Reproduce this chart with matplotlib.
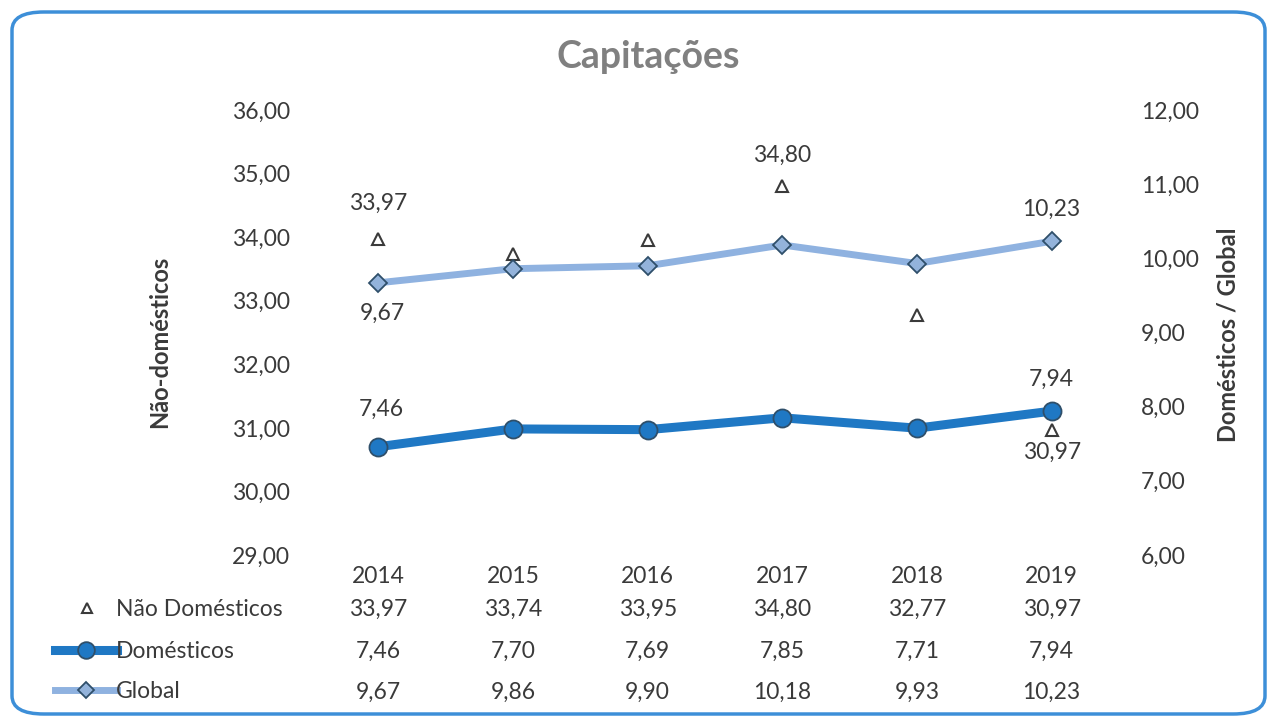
import matplotlib
matplotlib.use('Agg')
import matplotlib.pyplot as plt
from matplotlib import transforms
from matplotlib.lines import Line2D
from matplotlib.patches import FancyBboxPatch

plt.rcParams['font.family'] = ['Lato', 'DejaVu Sans']

anos = ['2014', '2015', '2016', '2017', '2018', '2019']
nao_domesticos = [33.97, 33.74, 33.95, 34.80, 32.77, 30.97]
domesticos = [7.46, 7.70, 7.69, 7.85, 7.71, 7.94]
global_ = [9.67, 9.86, 9.90, 10.18, 9.93, 10.23]

cor_txt = '#3a3a3a'
cor_dom = '#1f78c4'
cor_glob = '#8fb2e0'
cor_borda = '#2f4f6a'
fs = 16.5


def fmt(v):
    return ('%.2f' % v).replace('.', ',')


fig = plt.figure(figsize=(12.77, 7.26), dpi=100)
W, H = 1277, 726
ax = fig.add_axes([311 / W, 1 - 555 / H, (1119 - 311) / W, (555 - 110) / H])
ax2 = ax.twinx()

x = list(range(len(anos)))

# eixo esquerdo: não domésticos
ax.plot(x, nao_domesticos, linestyle='none', marker='^', markersize=8,
        markerfacecolor='white', markeredgecolor=cor_txt, markeredgewidth=1.5, zorder=3)
ax.set_ylim(29, 36)
ax.set_yticks(range(29, 37))
ax.set_yticklabels([fmt(v) for v in range(29, 37)])
ax.set_xlim(-0.5, 5.5)
ax.set_xticks(x)
ax.set_xticklabels(anos)
ax.tick_params(axis='x', length=0, pad=8, labelsize=fs, labelcolor=cor_txt)
ax.tick_params(axis='y', length=0, pad=15, labelsize=fs, labelcolor=cor_txt)

# eixo direito: domésticos / global
ax2.plot(x, global_, color=cor_glob, linewidth=5, marker='D', markersize=9,
         markerfacecolor='#93b3db', markeredgecolor=cor_borda, markeredgewidth=1.3)
ax2.plot(x, domesticos, color=cor_dom, linewidth=6.5, marker='o', markersize=13,
         markerfacecolor=cor_dom, markeredgecolor=cor_borda, markeredgewidth=1.3)
ax2.set_ylim(6, 12)
ax2.set_yticks(range(6, 13))
ax2.set_yticklabels([fmt(v) for v in range(6, 13)])
ax2.tick_params(axis='y', length=0, pad=16, labelsize=fs, labelcolor=cor_txt)

for a in (ax, ax2):
    for s in a.spines.values():
        s.set_visible(False)

fig.text(160 / W, 1 - 342 / H, 'Não-domésticos', rotation=90, fontsize=17,
         fontweight='bold', color=cor_txt, ha='center', va='center')
fig.text(1228 / W, 1 - 335 / H, 'Domésticos / Global', rotation=90, fontsize=17,
         fontweight='bold', color=cor_txt, ha='center', va='center')

# rótulos de dados
lbl = dict(fontsize=fs, color=cor_txt, ha='center', va='center', textcoords='offset points')
ax.annotate(fmt(nao_domesticos[0]), (0, nao_domesticos[0]), xytext=(0, 26), **lbl)
ax.annotate(fmt(nao_domesticos[3]), (3, nao_domesticos[3]), xytext=(0, 22), **lbl)
ax.annotate(fmt(nao_domesticos[5]), (5, nao_domesticos[5]), xytext=(0, -16), **lbl)
ax2.annotate(fmt(global_[0]), (0, global_[0]), xytext=(3, -22), **lbl)
ax2.annotate(fmt(global_[5]), (5, global_[5]), xytext=(0, 23), **lbl)
ax2.annotate(fmt(domesticos[0]), (0, domesticos[0]), xytext=(2, 27), **lbl)
ax2.annotate(fmt(domesticos[5]), (5, domesticos[5]), xytext=(0, 23), **lbl)

fig.text(648 / W, 1 - 57 / H, 'Capitações', fontsize=27, fontweight='bold',
         color='#808080', ha='center', va='center')

# tabela de dados
tr = transforms.blended_transform_factory(ax.transData, fig.transFigure)
linhas = [(609, nao_domesticos), (651, domesticos), (692, global_)]
for yp, serie in linhas:
    for i, v in enumerate(serie):
        ax.text(i, 1 - yp / H, fmt(v), transform=tr, fontsize=fs, color=cor_txt,
                ha='center', va='center', clip_on=False)

nomes = ['Não Domésticos', 'Domésticos', 'Global']
for (yp, _), nome in zip(linhas, nomes):
    fig.text(116 / W, 1 - yp / H, nome, fontsize=fs, color=cor_txt, ha='left', va='center')

fig.add_artist(Line2D([87 / W], [1 - 608 / H], transform=fig.transFigure, linestyle='none',
                      marker='^', markersize=7, markerfacecolor='white',
                      markeredgecolor=cor_txt, markeredgewidth=1.5))
fig.add_artist(Line2D([55 / W, 117 / W], [1 - 650 / H, 1 - 650 / H], transform=fig.transFigure,
                      color=cor_dom, linewidth=6.5))
fig.add_artist(Line2D([86 / W], [1 - 650 / H], transform=fig.transFigure, linestyle='none',
                      marker='o', markersize=12, markerfacecolor=cor_dom,
                      markeredgecolor=cor_borda, markeredgewidth=1.3))
fig.add_artist(Line2D([55 / W, 117 / W], [1 - 690 / H, 1 - 690 / H], transform=fig.transFigure,
                      color=cor_glob, linewidth=5))
fig.add_artist(Line2D([86 / W], [1 - 690 / H], transform=fig.transFigure, linestyle='none',
                      marker='D', markersize=8, markerfacecolor='#93b3db',
                      markeredgecolor=cor_borda, markeredgewidth=1.3))

# moldura arredondada
fig.add_artist(FancyBboxPatch((12 / W, 12 / H), (W - 24) / W, (H - 24) / H,
                              boxstyle='round,pad=0,rounding_size=0.025',
                              transform=fig.transFigure, facecolor='none',
                              edgecolor='#3d8fd8', linewidth=2.5))

fig.savefig('out.png', dpi=100)
